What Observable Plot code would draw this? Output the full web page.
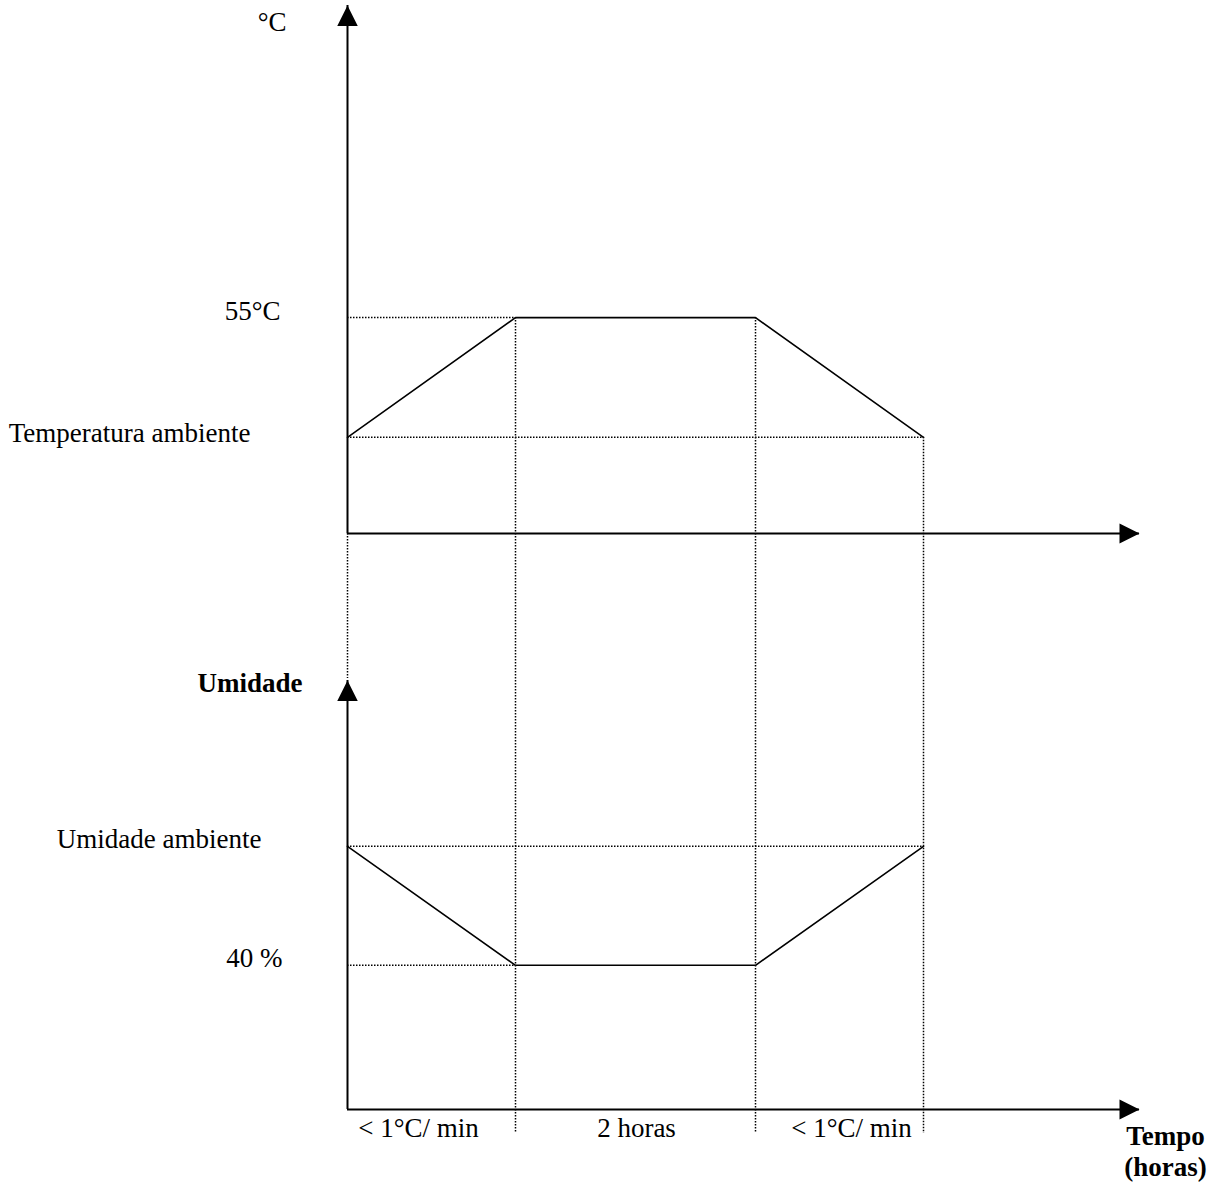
<!DOCTYPE html>
<html>
<head>
<meta charset="utf-8">
<script src="https://cdn.jsdelivr.net/npm/d3@7"></script>
<script src="https://cdn.jsdelivr.net/npm/@observablehq/plot@0.6"></script>
<style>
  body { margin: 0; background: #fff; }
  #chart { position: relative; width: 1214px; height: 1184px; }
  #chart svg { position: absolute; left: 0; top: 0; }
</style>
</head>
<body>
<div id="chart"></div>
<script>
// ---- data (schematic values) ----
const phaseTimes = [0, 1.4, 3.4, 4.8];        // hours: start, end of ramp, end of 2 h soak, end of ramp
const timeAxisEnd = 6.6;                       // hours, end of time axis arrow
const temperature = [24.5, 55, 55, 24.5];      // °C
const tempAxisTop = 134.5;                     // °C, top of temperature axis arrow
const humidity = [73, 40, 40, 73];             // %
const humAxisTop = 119;                        // %, top of humidity axis arrow
const phaseLabels = ["< 1°C/ min", "2 horas", "< 1°C/ min"];
const tempUnitLabel = "°C";
const tempHighLabel = "55°C";
const tempAmbLabel = "Temperatura ambiente";
const humTitle = "Umidade";
const humAmbLabel = "Umidade ambiente";
const humLowLabel = "40 %";
const timeTitle = "Tempo\n(horas)";

// ---- shared settings ----
const W = 1214, H = 1184;
const font = "'Liberation Serif', 'Times New Roman', serif";
const fs = 27;
const dotted = {stroke: "black", strokeWidth: 1.5, strokeDasharray: "1.5,1.5"};
const arrowUp = {draw(ctx, size) { const L = Math.sqrt(size); ctx.moveTo(0, 0); ctx.lineTo(L / 2, L); ctx.lineTo(-L / 2, L); ctx.closePath(); }};
const arrowRight = {draw(ctx, size) { const L = Math.sqrt(size); ctx.moveTo(0, 0); ctx.lineTo(-L, -L / 2); ctx.lineTo(-L, L / 2); ctx.closePath(); }};
const xOpts = {domain: [0, timeAxisEnd], axis: null};
const common = {width: W, height: H, marginLeft: 347, marginRight: 75, style: {background: "transparent", overflow: "visible", fontFamily: font}};

const tempPts = phaseTimes.map((t, i) => ({t, v: temperature[i]}));
const humPts = phaseTimes.map((t, i) => ({t, v: humidity[i]}));
const segs = phaseLabels.map((label, i) => ({label, t: (phaseTimes[i] + phaseTimes[i + 1]) / 2}));

// ---- temperature panel ----
const tempPlot = Plot.plot({
  ...common,
  marginTop: 5, marginBottom: 651,
  x: xOpts,
  y: {domain: [0, tempAxisTop], axis: null},
  marks: [
    // vertical guides through both panels
    Plot.ruleX(tempPts.slice(1), {x: "t", y1: "v", y2: 0, insetBottom: -600, ...dotted}),
    Plot.ruleX(tempPts.slice(0, 1), {x: "t", y1: 0, y2: 0, insetBottom: -145, ...dotted}),
    // horizontal guides
    Plot.ruleY([{v: temperature[1], x2: phaseTimes[1]}, {v: temperature[0], x2: phaseTimes[3]}], {y: "v", x1: 0, x2: "x2", ...dotted}),
    // axes
    Plot.ruleX([0], {y1: 0, y2: tempAxisTop, stroke: "black", strokeWidth: 2}),
    Plot.ruleY([0], {x1: 0, x2: timeAxisEnd, stroke: "black", strokeWidth: 2}),
    Plot.dot([{x: 0, y: tempAxisTop}], {x: "x", y: "y", symbol: arrowUp, r: 11.6, fill: "black", stroke: "none"}),
    Plot.dot([{x: timeAxisEnd, y: 0}], {x: "x", y: "y", symbol: arrowRight, r: 11.3, fill: "black", stroke: "none"}),
    // profile
    Plot.line(tempPts, {x: "t", y: "v", stroke: "black", strokeWidth: 1.6}),
    // labels
    Plot.text([tempUnitLabel], {x: 0, y: tempAxisTop, text: d => d, textAnchor: "end", dx: -61, dy: 17, fontSize: fs, fill: "black"}),
    Plot.text([tempHighLabel], {x: 0, y: temperature[1], text: d => d, textAnchor: "end", dx: -67, dy: -6, fontSize: fs, fill: "black"}),
    Plot.text([tempAmbLabel], {x: 0, y: temperature[0], text: d => d, textAnchor: "end", dx: -97, dy: -4, fontSize: fs, fill: "black"})
  ]
});

// ---- humidity panel ----
const humPlot = Plot.plot({
  ...common,
  marginTop: 680, marginBottom: 75,
  x: xOpts,
  y: {domain: [0, humAxisTop], axis: null},
  marks: [
    Plot.ruleY([{v: humidity[0], x2: phaseTimes[3]}, {v: humidity[1], x2: phaseTimes[1]}], {y: "v", x1: 0, x2: "x2", ...dotted}),
    Plot.ruleX([0], {y1: 0, y2: humAxisTop, stroke: "black", strokeWidth: 2}),
    Plot.ruleY([0], {x1: 0, x2: timeAxisEnd, stroke: "black", strokeWidth: 2}),
    Plot.dot([{x: 0, y: humAxisTop}], {x: "x", y: "y", symbol: arrowUp, r: 11.6, fill: "black", stroke: "none"}),
    Plot.dot([{x: timeAxisEnd, y: 0}], {x: "x", y: "y", symbol: arrowRight, r: 11.3, fill: "black", stroke: "none"}),
    Plot.line(humPts, {x: "t", y: "v", stroke: "black", strokeWidth: 1.6}),
    Plot.text([humTitle], {x: 0, y: humAxisTop, text: d => d, textAnchor: "end", dx: -45, dy: 3, fontSize: fs, fontWeight: "bold", fill: "black"}),
    Plot.text([humAmbLabel], {x: 0, y: humidity[0], text: d => d, textAnchor: "end", dx: -86, dy: -7, fontSize: fs, fill: "black"}),
    Plot.text([humLowLabel], {x: 0, y: humidity[1], text: d => d, textAnchor: "end", dx: -65, dy: -7, fontSize: fs, fill: "black"}),
    Plot.text(segs.slice(0, 1), {x: "t", y: 0, text: "label", dx: -13, dy: 19, fontSize: fs, fill: "black"}),
    Plot.text(segs.slice(1, 2), {x: "t", y: 0, text: "label", dx: 1, dy: 19, fontSize: fs, fill: "black"}),
    Plot.text(segs.slice(2, 3), {x: "t", y: 0, text: "label", dx: 12, dy: 19, fontSize: fs, fill: "black"}),
    Plot.text([timeTitle], {x: timeAxisEnd, y: 0, text: d => d, dx: 26, dy: 41, lineHeight: 1.17, fontSize: fs, fontWeight: "bold", fill: "black"})
  ]
});

const chart = document.getElementById("chart");
chart.appendChild(tempPlot);
chart.appendChild(humPlot);
</script>
</body>
</html>
